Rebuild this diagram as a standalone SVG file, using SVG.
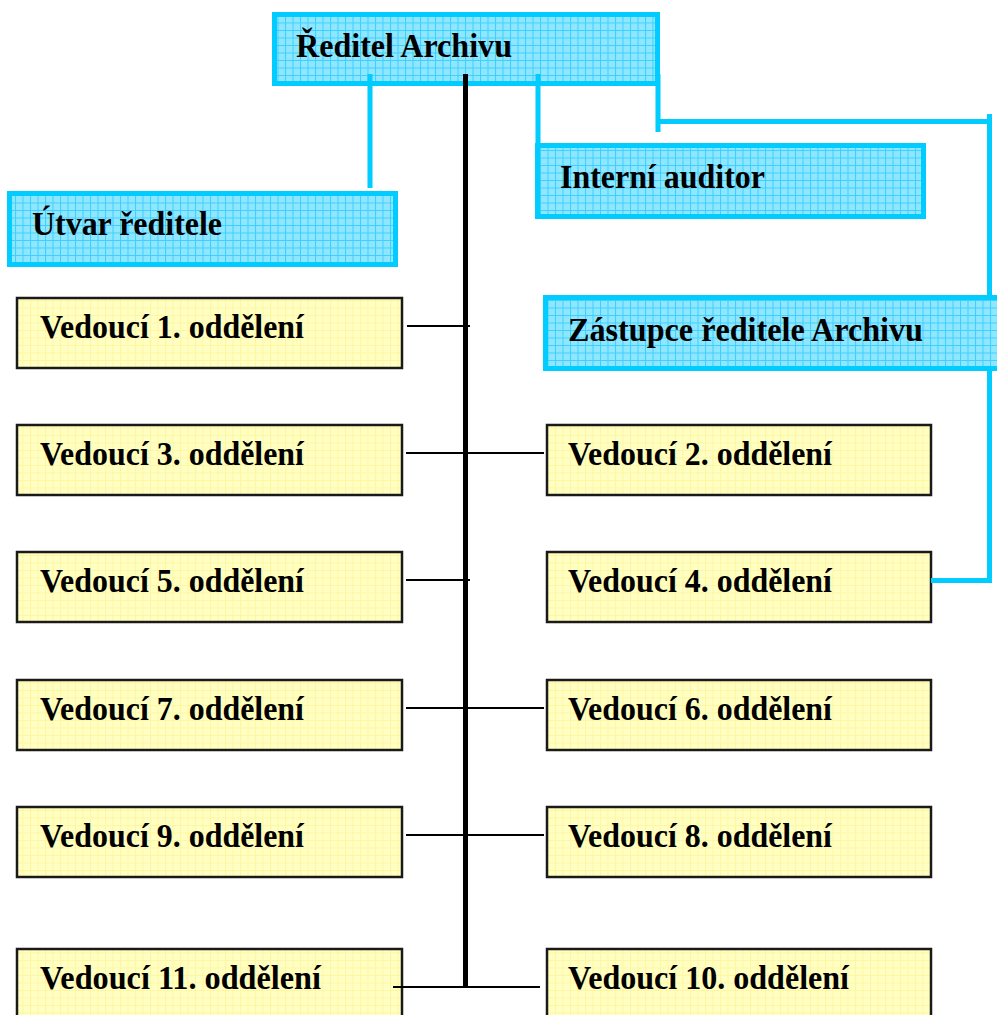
<svg xmlns="http://www.w3.org/2000/svg" width="997" height="1015" viewBox="0 0 997 1015">
<style>
.cy{fill:url(#pc);stroke:#00CCFF;stroke-width:5}
.ye{fill:url(#py);stroke:#1a1a1a;stroke-width:2.5}
.t{font-family:"Liberation Serif","Times New Roman",serif;font-weight:bold;font-size:34px;fill:#000}
.cl{stroke:#00CCFF;stroke-width:5;fill:none}
.bl{stroke:#000;stroke-width:2;fill:none}
.tr{stroke:#000;stroke-width:5;fill:none}
</style>
<defs>
<pattern id="pc" patternUnits="userSpaceOnUse" width="7.5" height="7.5">
<rect width="7.5" height="7.5" fill="#8FE7FF"/>
<path d="M0 0.5H7.5M0.5 0V7.5" stroke="#3CCFFF" stroke-width="1"/>
</pattern>
<pattern id="py" patternUnits="userSpaceOnUse" width="7.5" height="7.5">
<rect width="7.5" height="7.5" fill="#FFFFC4"/>
<path d="M0 0.5H7.5M0.5 0V7.5" stroke="#FFF6A0" stroke-width="1"/>
</pattern>
</defs>
<g id="reditel"><rect class="cy" x="274.5" y="14.5" width="383" height="69"/><text class="t" x="296" y="57" textLength="216" lengthAdjust="spacingAndGlyphs">Ředitel Archivu</text></g>
<g id="utvar"><rect class="cy" x="9.5" y="193.5" width="386" height="71"/><text class="t" x="32" y="235" textLength="190" lengthAdjust="spacingAndGlyphs">Útvar ředitele</text></g>
<g id="auditor"><rect class="cy" x="537.5" y="145.5" width="386" height="71"/><text class="t" x="560" y="188" textLength="205" lengthAdjust="spacingAndGlyphs">Interní auditor</text></g>
<g id="zastupce"><rect class="cy" x="545.5" y="297.5" width="460" height="71"/><text class="t" x="568" y="341" textLength="355" lengthAdjust="spacingAndGlyphs">Zástupce ředitele Archivu</text></g>
<g id="v1"><rect class="ye" x="17" y="298" width="385" height="70"/><text class="t" x="40" y="338" textLength="264" lengthAdjust="spacingAndGlyphs">Vedoucí 1. oddělení</text></g>
<g id="v3"><rect class="ye" x="17" y="425" width="385" height="70"/><text class="t" x="40" y="465" textLength="264" lengthAdjust="spacingAndGlyphs">Vedoucí 3. oddělení</text></g>
<g id="v5"><rect class="ye" x="17" y="552" width="385" height="70"/><text class="t" x="40" y="592" textLength="264" lengthAdjust="spacingAndGlyphs">Vedoucí 5. oddělení</text></g>
<g id="v7"><rect class="ye" x="17" y="680" width="385" height="70"/><text class="t" x="40" y="720" textLength="264" lengthAdjust="spacingAndGlyphs">Vedoucí 7. oddělení</text></g>
<g id="v9"><rect class="ye" x="17" y="807" width="385" height="70"/><text class="t" x="40" y="847" textLength="264" lengthAdjust="spacingAndGlyphs">Vedoucí 9. oddělení</text></g>
<g id="v11"><rect class="ye" x="17" y="949" width="385" height="80"/><text class="t" x="40" y="989" textLength="281" lengthAdjust="spacingAndGlyphs">Vedoucí 11. oddělení</text></g>
<g id="v2"><rect class="ye" x="547" y="425" width="384" height="70"/><text class="t" x="568" y="465" textLength="264" lengthAdjust="spacingAndGlyphs">Vedoucí 2. oddělení</text></g>
<g id="v4"><rect class="ye" x="547" y="552" width="384" height="70"/><text class="t" x="568" y="592" textLength="264" lengthAdjust="spacingAndGlyphs">Vedoucí 4. oddělení</text></g>
<g id="v6"><rect class="ye" x="547" y="680" width="384" height="70"/><text class="t" x="568" y="720" textLength="264" lengthAdjust="spacingAndGlyphs">Vedoucí 6. oddělení</text></g>
<g id="v8"><rect class="ye" x="547" y="807" width="384" height="70"/><text class="t" x="568" y="847" textLength="264" lengthAdjust="spacingAndGlyphs">Vedoucí 8. oddělení</text></g>
<g id="v10"><rect class="ye" x="547" y="949" width="384" height="80"/><text class="t" x="568" y="989" textLength="281" lengthAdjust="spacingAndGlyphs">Vedoucí 10. oddělení</text></g>
<g id="connectors">
<path class="cl" d="M370 74V188M538 74V145M658 74V132M658 121.5H992M989.5 114V295M989.5 371V580.5H931"/>
<path class="tr" d="M465.5 74V988"/>
<path class="bl" d="M407 326H470M406 453H544M406 580H470M406 708H544M406 835H544M393 987H540"/>
</g>
</svg>
